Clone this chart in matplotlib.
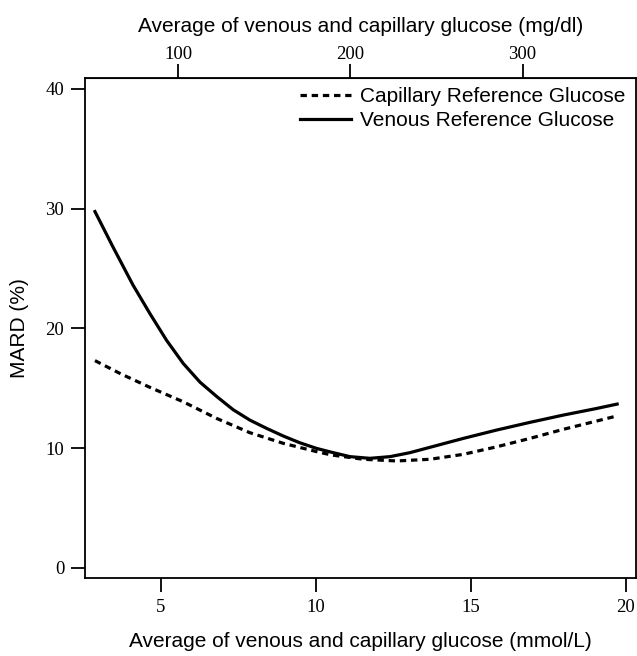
import matplotlib.pyplot as plt
import numpy as np

# values
venous_x = [2.87, 3.45, 4.1, 4.65, 5.18, 5.72, 6.26, 6.8, 7.33, 7.87, 8.41, 8.95, 9.48,
            10.02, 10.5, 11.1, 11.74, 12.39, 13.03, 13.68, 14.75, 15.83, 16.9, 17.98, 19.05, 19.72]
venous_y = [29.75, 26.8, 23.6, 21.2, 19.0, 17.06, 15.5, 14.3, 13.2, 12.33, 11.64, 11.0, 10.44,
            9.97, 9.65, 9.28, 9.14, 9.28, 9.61, 10.06, 10.8, 11.5, 12.14, 12.75, 13.3, 13.67]

capillary_x = [2.87, 3.7, 4.65, 5.72, 6.8, 7.87, 8.95, 10.02, 10.5, 11.53, 12.6, 13.68, 14.75,
               15.83, 16.9, 17.98, 19.05, 19.7]
capillary_y = [17.3, 16.2, 15.06, 13.86, 12.47, 11.28, 10.39, 9.7, 9.42, 9.06, 8.92, 9.06, 9.47,
               10.1, 10.8, 11.56, 12.25, 12.67]

x_ticks = [5, 10, 15, 20]
y_ticks = [0, 10, 20, 30, 40]
mgdl_ticks = [100, 200, 300]
MMOL_TO_MGDL = 18.0

serif = 'Liberation Serif'
sans = 'Liberation Sans'

fig = plt.figure(figsize=(6.37, 6.56), dpi=100)
ax = fig.add_axes([0.1335, 0.119, 0.865, 0.762])

ax.plot(capillary_x, capillary_y, color='black', lw=2.3, ls=(0, (2.0, 1.5)),
        label='Capillary Reference Glucose')
ax.plot(venous_x, venous_y, color='black', lw=2.3, label='Venous Reference Glucose')

ax.set_xlim(2.55, 20.33)
ax.set_ylim(-0.85, 40.9)
ax.set_xticks(x_ticks)
ax.set_yticks(y_ticks)
ax.tick_params(direction='out', length=10, width=1.3, labelsize=13.5, pad=5)
for lab in ax.get_xticklabels() + ax.get_yticklabels():
    lab.set_fontfamily(serif)
for s in ax.spines.values():
    s.set_linewidth(1.3)

ax.set_xlabel('Average of venous and capillary glucose (mmol/L)', fontsize=15,
              family=sans, labelpad=12)
ax.set_ylabel('MARD (%)', fontsize=15, family=sans, labelpad=12)

top = ax.secondary_xaxis('top', functions=(lambda x: x * MMOL_TO_MGDL,
                                            lambda x: x / MMOL_TO_MGDL))
top.set_xticks(mgdl_ticks)
top.tick_params(direction='out', length=10, width=1.3, labelsize=13.5, pad=1)
for lab in top.get_xticklabels():
    lab.set_fontfamily(serif)
top.set_xlabel('Average of venous and capillary glucose (mg/dl)', fontsize=15,
               family=sans, labelpad=10)

ax.legend(loc='upper right', frameon=False, prop={'family': sans, 'size': 15},
          handlelength=2.45, handletextpad=0.45, labelspacing=0.22,
          borderaxespad=0.05, bbox_to_anchor=(0.998, 1.0))

fig.savefig('out.png', dpi=100)
